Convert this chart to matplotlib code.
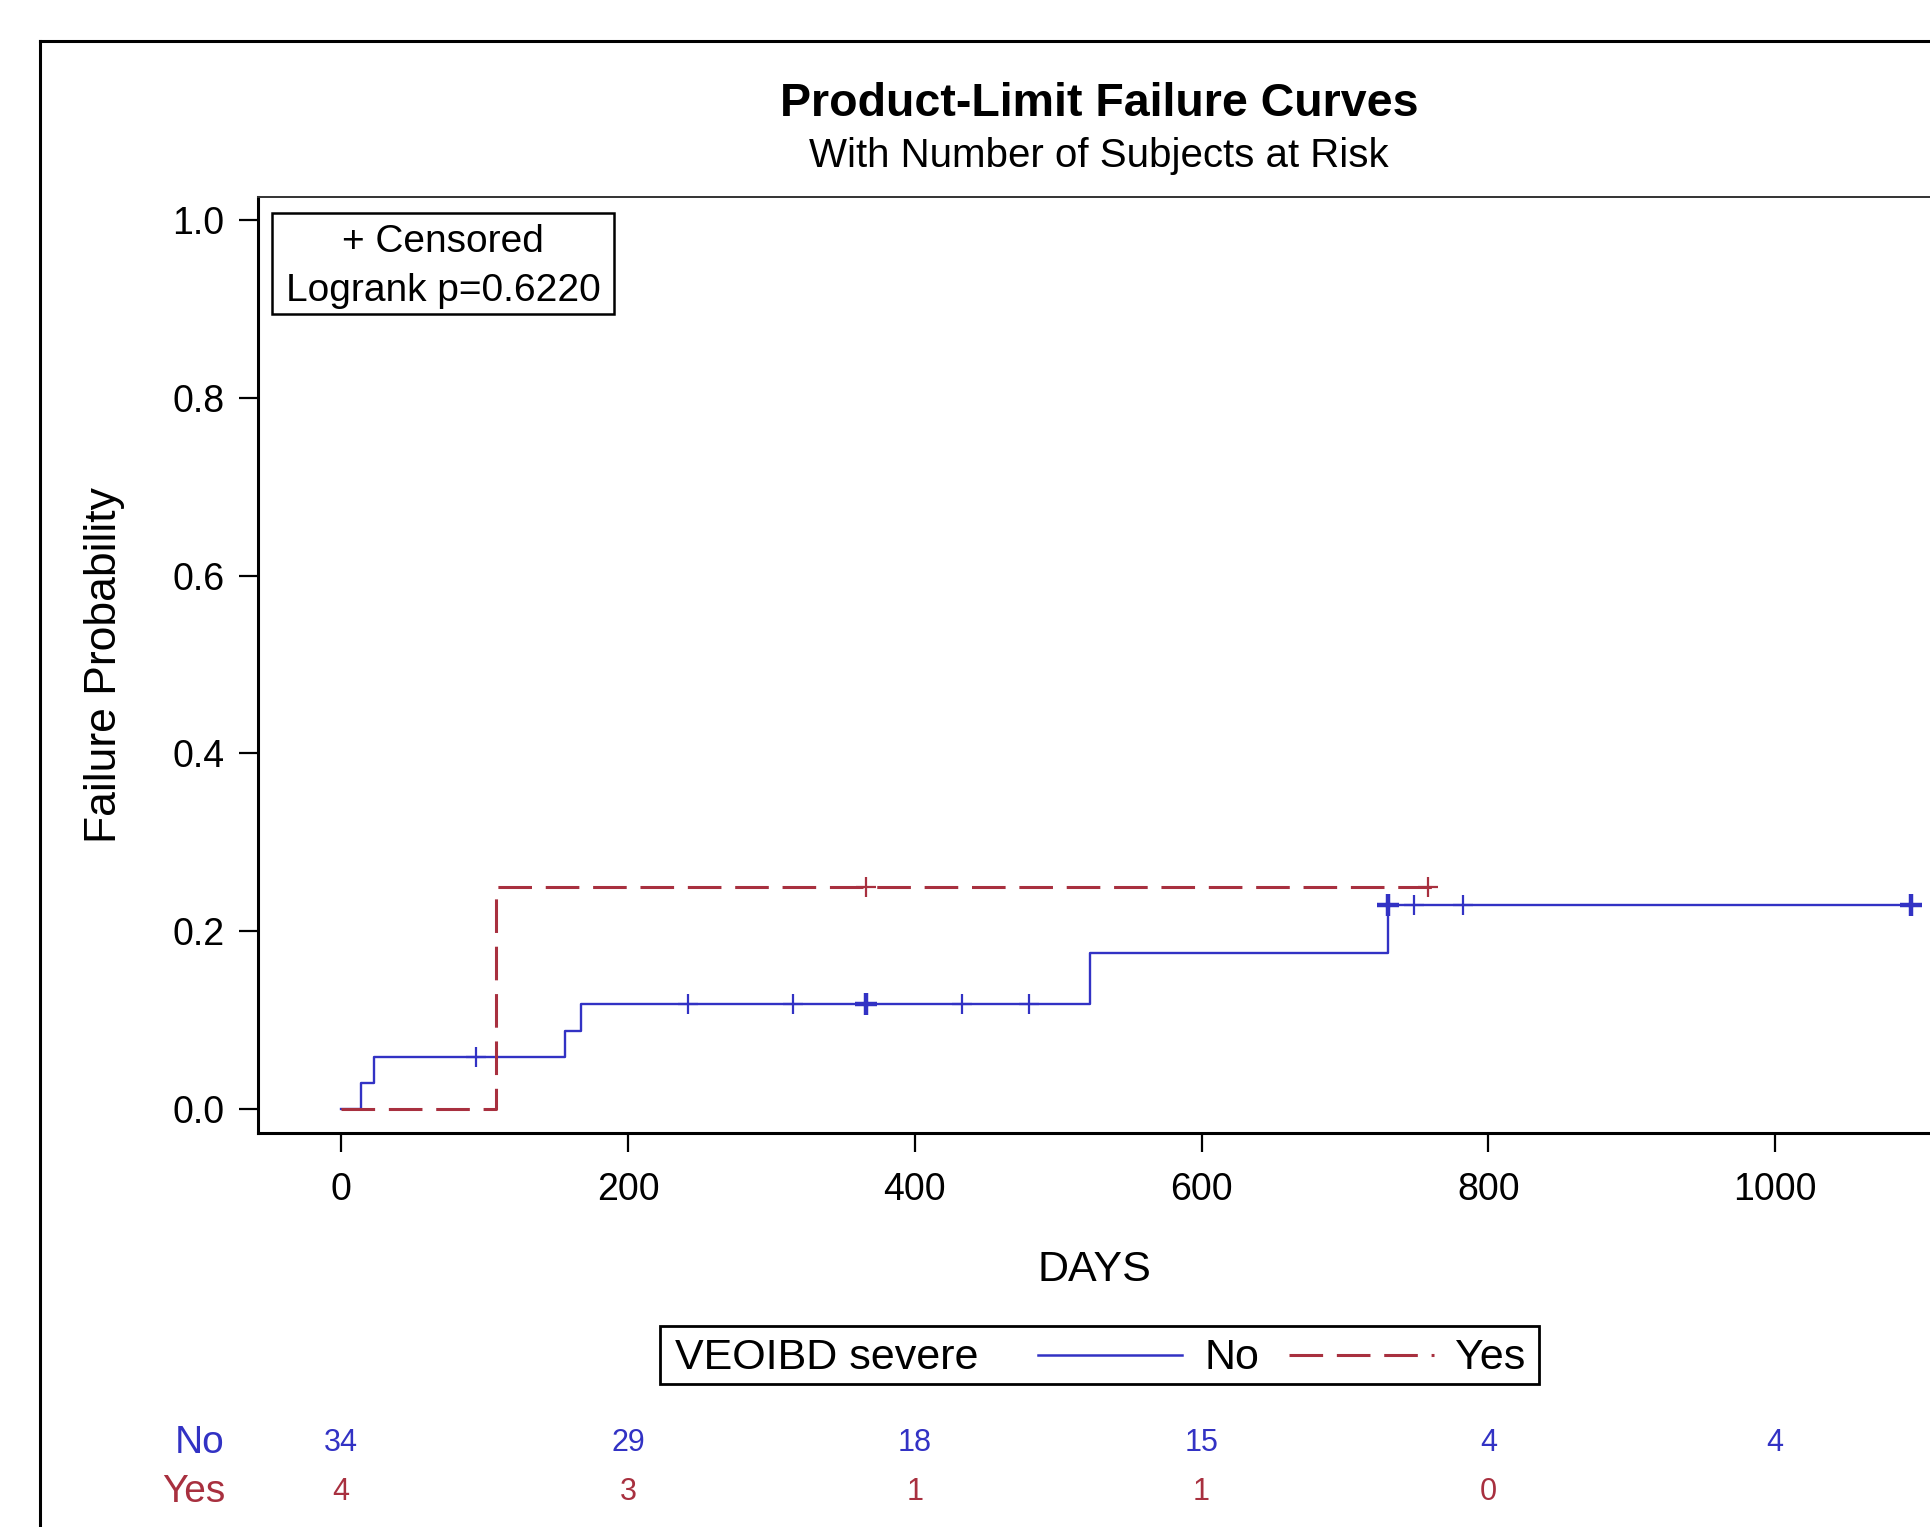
import matplotlib
matplotlib.use("Agg")
import matplotlib.pyplot as plt
from matplotlib.lines import Line2D
from matplotlib.patches import Rectangle
import matplotlib.transforms as mtransforms

plt.rcParams['font.family'] = ['Liberation Sans', 'DejaVu Sans']

# step curves (time of step, failure probability after the step)
no_times = [0, 14, 23, 156, 167, 522, 730, 1101]
no_fail = [0.0, 0.0294, 0.0588, 0.088, 0.118, 0.175, 0.229, 0.229]
yes_times = [0, 108, 762]
yes_fail = [0.0, 0.25, 0.25]

# censored observations
no_cens = [94, 242, 315, 366, 433, 480, 730, 748, 782, 1095]
no_cens_bold = [366, 730, 1095]
yes_cens = [366, 758]

# number at risk
risk_times = [0, 200, 400, 600, 800, 1000]
risk_no = ["34", "29", "18", "15", "4", "4"]
risk_yes = ["4", "3", "1", "1", "0", ""]

blue = "#3232C4"
red = "#A8303F"

W, H = 1930, 1527
fig = plt.figure(figsize=(W / 100, H / 100), dpi=100)
fig.patch.set_facecolor("white")

ax = fig.add_axes([258 / W, 1 - 1133 / H, 1 - 258 / W, (1133 - 197) / H])
ax.set_xlim(-58, 1108)
ax.set_ylim(-0.027, 1.026)

# curves
ax.step(no_times, no_fail, where="post", color=blue, lw=1.7)
ax.step(yes_times, yes_fail, where="post", color=red, lw=2.2,
        linestyle=(0, (11, 4.5)))


def fail_at(t, times, vals):
    v = vals[0]
    for tt, vv in zip(times, vals):
        if tt <= t:
            v = vv
    return v


ax.plot(no_cens, [fail_at(t, no_times, no_fail) for t in no_cens], ls="none",
        marker="+", ms=15, mew=1.6, color=blue)
ax.plot(no_cens_bold, [fail_at(t, no_times, no_fail) for t in no_cens_bold], ls="none",
        marker="+", ms=16, mew=3.2, color=blue)
ax.plot(yes_cens, [fail_at(t, yes_times, yes_fail) for t in yes_cens], ls="none",
        marker="+", ms=15, mew=1.6, color=red)

# axes styling
ax.spines["right"].set_visible(False)
ax.spines["left"].set_linewidth(2.2)
ax.spines["bottom"].set_linewidth(2.2)
ax.spines["top"].set_linewidth(1.4)
ax.spines["top"].set_color("#333333")
ax.set_xticks([0, 200, 400, 600, 800, 1000])
ax.set_yticks([0.0, 0.2, 0.4, 0.6, 0.8, 1.0])
ax.set_yticklabels(["0.0", "0.2", "0.4", "0.6", "0.8", "1.0"])
ax.tick_params(axis="both", direction="out", length=14, width=1.6, labelsize=27, pad=10)
ax.tick_params(axis="x", pad=14)
ax.set_xlabel("DAYS", fontsize=31, labelpad=30)
ax.set_ylabel("Failure Probability", fontsize=32, labelpad=34)

# titles
fig.text(1099 / W, 1 - 104 / H, "Product-Limit Failure Curves", ha="center", va="center",
         fontsize=33.5, fontweight="bold")
fig.text(1099 / W, 1 - 156 / H, "With Number of Subjects at Risk", ha="center", va="center",
         fontsize=29)

# inset box
fig.patches.append(Rectangle((272 / W, 1 - 314 / H), (614 - 272) / W, (314 - 213) / H,
                             transform=fig.transFigure, fill=False, lw=1.8, ec="black"))
fig.text(443 / W, 1 - 242 / H, "+ Censored", ha="center", va="center", fontsize=28)
fig.text(443 / W, 1 - 291 / H, "Logrank p=0.6220", ha="center", va="center", fontsize=28)

# legend box
ly = 1 - 1358 / H
fig.patches.append(Rectangle((660 / W, 1 - 1384 / H), (1539 - 660) / W, (1384 - 1326) / H,
                             transform=fig.transFigure, fill=False, lw=2.0, ec="black"))
fig.text(675 / W, ly, "VEOIBD severe", ha="left", va="center", fontsize=31)
fig.lines.append(Line2D([1038 / W, 1182 / W], [1 - 1355 / H, 1 - 1355 / H],
                        transform=fig.transFigure, color=blue, lw=1.8))
fig.text(1204 / W, ly, "No", ha="left", va="center", fontsize=31)
fig.lines.append(Line2D([1289 / W, 1434 / W], [1 - 1355 / H, 1 - 1355 / H],
                        transform=fig.transFigure, color=red, lw=2.2,
                        linestyle=(0, (11, 4.5))))
fig.text(1455 / W, ly, "Yes", ha="left", va="center", fontsize=31)

# number at risk table
trans = mtransforms.blended_transform_factory(ax.transData, fig.transFigure)
y_no = 1 - 1443 / H
y_yes = 1 - 1492 / H
fig.text(225 / W, y_no, "No", ha="right", va="center", fontsize=28, color=blue)
fig.text(225 / W, y_yes, "Yes", ha="right", va="center", fontsize=28, color=red)
for t, n1, n2 in zip(risk_times, risk_no, risk_yes):
    ax.text(t, y_no, n1, transform=trans, ha="center", va="center", fontsize=22,
            color=blue, clip_on=False)
    ax.text(t, y_yes, n2, transform=trans, ha="center", va="center", fontsize=22,
            color=red, clip_on=False)

# outer border (top and left visible)
fig.lines.append(Line2D([40 / W, 1.0], [1 - 41 / H, 1 - 41 / H], transform=fig.transFigure,
                        color="black", lw=2.2))
fig.lines.append(Line2D([40 / W, 40 / W], [1 - 41 / H, 0.0], transform=fig.transFigure,
                        color="black", lw=2.2))

fig.savefig("out.png", dpi=100)
